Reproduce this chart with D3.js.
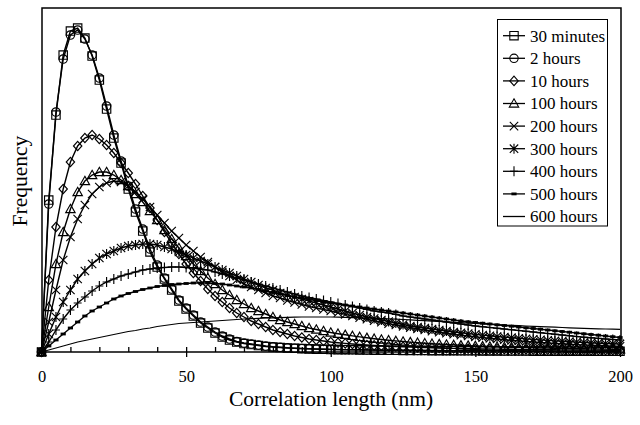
<!DOCTYPE html>
<html><head><meta charset="utf-8">
<script src="https://cdn.jsdelivr.net/npm/d3@7"></script>
<style>html,body{margin:0;padding:0;background:#fff;} svg{display:block;}</style>
</head><body><svg id="c" width="640" height="425"></svg>
<script>
// ---- data (frequency in arbitrary units) ----
const xValues = [0,2.5,5,7.5,10,12.5,15,17.5,20,22.5,
  25,27.5,30,32.5,35,37.5,40,42.5,45,47.5,
  50,52.5,55,57.5,60,62.5,65,67.5,70,72.5,
  75,77.5,80,82.5,85,87.5,90,92.5,95,97.5,
  100,102.5,105,107.5,110,112.5,115,117.5,120,122.5,
  125,127.5,130,132.5,135,137.5,140,142.5,145,147.5,
  150,152.5,155,157.5,160,162.5,165,167.5,170,172.5,
  175,177.5,180,182.5,185,187.5,190,192.5,195,197.5,200];

const seriesNames = ["30 minutes","2 hours","10 hours","100 hours","200 hours","300 hours","400 hours","500 hours","600 hours"];
const seriesMarkers = ["square","circle","diamond","triangle","x","asterisk","plus","dash","none"];

const s30min = [0,152,237,297,321,324,314,296,272,243,
  214,189,163,140,121,100,85,73,62,51,
  43,36,29,24,19,15,12,10,8.5,7.5,
  6.5,5.5,5,4.5,4,3.7,3.4,3.1,2.9,2.7,
  2.5,2.4,2.3,2.2,2.1,2,1.9,1.8,1.7,1.7,
  1.6,1.6,1.5,1.5,1.4,1.4,1.3,1.3,1.2,1.2,
  1.2,1.1,1.1,1.1,1,1,1,1,0.9,0.9,
  0.9,0.9,0.8,0.8,0.8,0.8,0.8,0.7,0.7,0.7,0.7];
const s2h = [0,148,240,293,317,322,313,297,274,246,
  217,191,166,143,123,103,87,74,63,52,
  44,37,30,25,20,16,13,10.5,9,8,
  7,6,5.2,4.7,4.2,3.8,3.5,3.2,3,2.8,
  2.6,2.5,2.4,2.3,2.2,2.1,2,1.9,1.8,1.8,
  1.7,1.7,1.6,1.6,1.5,1.5,1.4,1.4,1.3,1.3,
  1.3,1.2,1.2,1.2,1.1,1.1,1.1,1.1,1,1,
  1,1,0.9,0.9,0.9,0.9,0.9,0.8,0.8,0.8,0.8];
const s10h = [0,72,125,163,190,206,214,217,213,207,
  199,189,179,168,156,144,132,120,109,98,
  88,79,71,63,56,50,44,39,35,31,
  28,25,22,20,18,16,14.5,13,12,11,
  10,9.3,8.6,8,7.5,7,6.6,6.2,5.8,5.5,
  5.2,4.9,4.6,4.4,4.2,4,3.8,3.6,3.5,3.3,
  3.2,3.1,3,2.9,2.8,2.7,2.6,2.5,2.4,2.3,
  2.3,2.2,2.1,2.1,2,2,1.9,1.9,1.8,1.8,1.7];
const s100h = [0,45,88,120,143,160,171,177,180,180,
  177,172,166,158,150,141,132,122,113,104,
  96,88,81,74,68,62,57,52,48,44,
  41,38,35,32,30,28,26,24,22.5,21,
  19.5,18.3,17.2,16.1,15.1,14.2,13.3,12.5,11.8,11.1,
  10.5,9.9,9.3,8.8,8.3,7.9,7.5,7.1,6.7,6.4,
  6.1,5.8,5.5,5.3,5,4.8,4.6,4.4,4.2,4,
  3.9,3.7,3.6,3.4,3.3,3.2,3.1,3,2.9,2.8,2.7];
const s200h = [0,30,62,92,115,133,147,158,165,169,
  171,170,166,160,153,145,137,129,121,114,
  107,101,95,90,85,80,76,72,68,65,
  62,59,56,54,51.5,49.5,47.5,45.5,44,42.5,
  41,39.3,37.6,36,34.4,32.8,31.3,29.8,28.4,27,
  25.7,24.4,23.2,22,20.9,19.8,18.8,17.8,16.9,16,
  15.2,14.4,13.7,13,12.3,11.7,11.1,10.5,10,9.5,
  9,8.6,8.2,7.8,7.4,7.1,6.8,6.5,6.2,5.9,5.7];
const s300h = [0,18,35,50,62,73,81,88,94,98,
  101,104,106,107,108,108,107,105,103,100,
  97,94,91,88,85,82,79,76,73,70,
  67,64,62,59,57,55,53,51,49,47,
  45,43,41,39,37,35,33.5,32,30.5,29,
  27.5,26,25,24,23,22,21,20,19.2,18.4,
  17.6,16.9,16.2,15.5,14.9,14.3,13.7,13.1,12.6,12.1,
  11.6,11.1,10.7,10.3,9.9,9.5,9.1,8.8,8.5,8.2,7.9];
const s400h = [0,10,22,33,42,49,55,61,66,70,
  73,76,78,80,82,83,84,84.5,85,85,
  84.5,84,83,82,80,78,76,74,72,70,
  68,66,64,62,60,58,56,54.5,53,51.5,
  50,48.5,47,45.5,44,42.5,41,40,39,37.5,
  36,35,34,33,32,31,30,29,28,27,
  26,25.2,24.5,23.7,23,22.2,21.5,20.7,20,19.2,
  18.5,17.7,17,16.2,15.5,14.8,14.2,13.6,13,12.5,12];
const s500h = [0,6,12,18,24,30,36,41,45,49,
  53,56,58.5,60.5,62.5,64,65.5,66.5,67.5,68,
  68.5,69,69,69,68.5,68,67,66,65,64,
  62.5,61,59.5,58,56.5,55,54,52.5,51.5,50,
  49,48,47,46,45,44,43,42,41,40,
  39,38,37,36,35,34,33,32,31,30.2,
  29.5,28.8,28,27.2,26.5,25.8,25,24.2,23.5,22.8,
  22,21.2,20.5,19.8,19,18.2,17.5,16.8,16,15.3,14.5];
const s600h = [0,2,4,6,8,10,11.5,13,14.5,16,
  17.5,19,20.5,21.5,23,24,25.5,26.5,27.5,28.5,
  29,29.5,30,30.5,31,31.5,32,32.5,33,33.3,
  33.6,34,34.2,34.4,34.6,34.8,35,35,35,35,
  35,34.8,34.6,34.4,34.2,34,33.7,33.4,33.1,32.8,
  32.5,32.1,31.7,31.3,30.9,30.5,30.1,29.7,29.3,28.9,
  28.5,28.1,27.7,27.3,26.9,26.6,26.3,26,25.7,25.4,
  25.1,24.8,24.5,24.2,23.9,23.6,23.4,23.2,23,22.8,22.6];

const majorTicks = [0,50,100,150,200];
const minorTicks = [0,10,20,30,40,50,60,70,80,90,100,110,120,130,140,150,160,170,180,190,200];
const xTitle = "Correlation length (nm)";
const yTitle = "Frequency";

const seriesValues = [s30min,s2h,s10h,s100h,s200h,s300h,s400h,s500h,s600h];

// ---- drawing ----
const svg = d3.select("#c");
const FONT = "'Liberation Serif','Times New Roman',Times,serif";
const x = d3.scaleLinear().domain([0,200]).range([41.5,620]);
const y = d3.scaleLinear().domain([0,344]).range([352,8]);

const markerPaths = {
  square: "M-4.2,-4.2h8.4v8.4h-8.4z",
  circle: "M4.2,0A4.2,4.2 0 1,1 -4.2,0A4.2,4.2 0 1,1 4.2,0Z",
  diamond: "M0,-4.7L4.2,0L0,4.7L-4.2,0Z",
  triangle: "M0,-4.7L4.7,3.6L-4.7,3.6Z",
  x: "M-4.2,-4.2L4.2,4.2M-4.2,4.2L4.2,-4.2",
  asterisk: "M-4.2,-4.2L4.2,4.2M-4.2,4.2L4.2,-4.2M0,-5V5",
  plus: "M0,-5V5M-4,0H4",
  dash: "M-2.6,-1.4h5.2v2.8h-5.2z"
};

const line = d3.line().x(d=>x(d[0])).y(d=>y(d[1]));

seriesValues.forEach((vals,si)=>{
  const pts = xValues.map((xv,i)=>[xv, vals[i]]);
  const g = svg.append("g");
  g.append("path").attr("d", line(pts)).attr("fill","none")
    .attr("stroke","#000").attr("stroke-width", si===8 ? 1.2 : 1.4);
  const m = seriesMarkers[si];
  if (m !== "none") {
    g.selectAll("path.m").data(pts).enter().append("path").attr("class","m")
      .attr("transform", d=>`translate(${x(d[0])},${y(d[1])})`)
      .attr("d", markerPaths[m])
      .attr("fill", m==="dash" ? "#000" : "none")
      .attr("stroke", m==="dash" ? "none" : "#000")
      .attr("stroke-width", 1.15);
  }
});

// frame
svg.append("path").attr("d","M42,352V8H621V352")
  .attr("fill","none").attr("stroke","#000").attr("stroke-width",1.5);

// axes
const axB = d3.axisBottom(x).tickValues(majorTicks).tickSizeInner(5).tickSizeOuter(0).tickPadding(13.5);
const gB = svg.append("g").attr("transform","translate(0,352)").call(axB);
gB.select(".domain").remove();
gB.selectAll("text").attr("font-family",FONT).attr("font-size","16.5px").attr("fill","#000");
gB.selectAll("line").attr("stroke","#000").attr("stroke-width",1.3);

const axT = d3.axisTop(x).tickValues(minorTicks).tickSizeInner(5).tickSizeOuter(0).tickFormat("");
const gT = svg.append("g").attr("transform","translate(0,352)").call(axT);
gT.select(".domain").remove();
gT.selectAll("line").attr("stroke","#000").attr("stroke-width",1.3);

svg.append("line").attr("x1",41).attr("x2",621).attr("y1",352).attr("y2",352)
  .attr("stroke","#000").attr("stroke-width",1.7);

// titles
svg.append("text").attr("x",331).attr("y",406).attr("text-anchor","middle")
  .attr("font-family",FONT).attr("font-size","21.5px").text(xTitle);
svg.append("text").attr("transform","translate(27,181) rotate(-90)").attr("text-anchor","middle")
  .attr("font-family",FONT).attr("font-size","21.5px").text(yTitle);

// legend
const lg = svg.append("g");
lg.append("rect").attr("x",497.5).attr("y",19.5).attr("width",110).attr("height",206.5)
  .attr("fill","#fff").attr("stroke","#000").attr("stroke-width",1);
seriesNames.forEach((name,i)=>{
  const by = 41.5 + i*22.6;
  const cy = by - 5.8;
  lg.append("line").attr("x1",503).attr("x2",525).attr("y1",cy).attr("y2",cy)
    .attr("stroke","#000").attr("stroke-width",1.3);
  const m = seriesMarkers[i];
  if (m !== "none") {
    lg.append("path").attr("transform",`translate(514,${cy})`).attr("d",markerPaths[m])
      .attr("fill", m==="dash" ? "#000" : "none")
      .attr("stroke", m==="dash" ? "none" : "#000").attr("stroke-width",1.1);
  }
  lg.append("text").attr("x",530).attr("y",by).attr("font-family",FONT)
    .attr("font-size","17px").text(name);
});
</script>
</body></html>
